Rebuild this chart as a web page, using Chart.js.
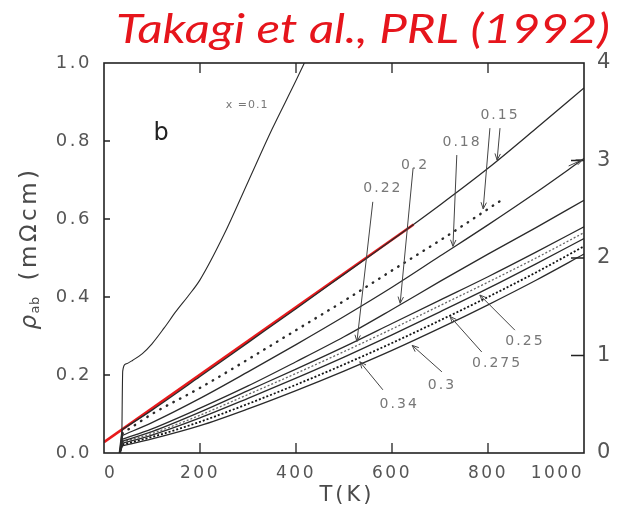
<!DOCTYPE html>
<html>
<head>
<meta charset="utf-8">
<script src="https://cdn.jsdelivr.net/npm/chart.js@4.4.0/dist/chart.umd.min.js"></script>
<style>
  html, body { margin: 0; padding: 0; background: #fff; }
</style>
</head>
<body>
<canvas id="rhoChart" width="620" height="509"></canvas>
<script>
// temperature grid for the metallic samples (K); first point is below Tc
const temps = [33, 38, 100, 200, 300, 400, 500, 600, 700, 800, 900, 1000];

// in-plane resistivity rho_ab (mOhm cm) for each Sr content x
const rho015 = [0, 0.060, 0.110, 0.196, 0.283, 0.370, 0.458, 0.546, 0.636, 0.730, 0.832, 0.936];
const rho018 = [0, 0.045, 0.078, 0.140, 0.208, 0.278, 0.350, 0.425, 0.505, 0.585, 0.668, 0.755];
const rho020 = [0, 0.035, 0.062, 0.115, 0.172, 0.234, 0.298, 0.368, 0.440, 0.510, 0.578, 0.648];
const rho022 = [0, 0.030, 0.055, 0.105, 0.160, 0.215, 0.272, 0.332, 0.392, 0.452, 0.515, 0.580];
const rho025 = [0, 0.028, 0.050, 0.097, 0.150, 0.204, 0.260, 0.318, 0.378, 0.438, 0.500, 0.565];
const rho0275 = [0, 0.025, 0.046, 0.090, 0.140, 0.192, 0.246, 0.303, 0.362, 0.422, 0.485, 0.550];
const rho030 = [0, 0.022, 0.041, 0.080, 0.126, 0.175, 0.227, 0.282, 0.340, 0.400, 0.463, 0.530];
const rho034 = [0, 0.018, 0.036, 0.070, 0.113, 0.160, 0.210, 0.263, 0.320, 0.380, 0.443, 0.510];

// second x = 0.15 crystal (dotted), measured up to 830 K
const tempsDot = [33, 38, 100, 200, 300, 400, 500, 600, 700, 830];
const rhoDot = [0, 0.050, 0.100, 0.167, 0.240, 0.315, 0.390, 0.468, 0.545, 0.650];

// underdoped x = 0.1 sample, runs off the top of the frame
const temps01 = [33, 37, 39, 45, 60, 80, 100, 125, 150, 175, 200, 250, 300, 350, 400, 425];
const rho01 = [0, 0.020, 0.210, 0.228, 0.238, 0.255, 0.280, 0.320, 0.363, 0.402, 0.444, 0.560, 0.695, 0.830, 0.955, 1.020];

// linear-in-T guide
const lineT = [0, 645];
const lineRho = [0.028, 0.586];

// x-content labels [text, T, rho] and their arrows [T0, rho0, T1, rho1]
const xLabels = [
  ['0.15', 825, 0.867], ['0.18', 746, 0.797], ['0.2', 648, 0.738], ['0.22', 581, 0.679],
  ['0.25', 877, 0.287], ['0.275', 819, 0.231], ['0.3', 704, 0.174], ['0.34', 615, 0.126]
];
const arrows = [
  [825, 0.833, 819, 0.751], [804, 0.833, 790, 0.626], [735, 0.764, 727, 0.530],
  [644, 0.731, 617, 0.384], [560, 0.644, 527, 0.286], [856, 0.315, 783, 0.405],
  [787, 0.259, 721, 0.350], [704, 0.208, 642, 0.276], [581, 0.162, 533, 0.234],
  [968, 0.736, 997, 0.752]
];

const xTicks = [200, 400, 600, 800];
const yTicks = [0.2, 0.4, 0.6, 0.8];
const y2Ticks = [1, 2, 3];

const pts = (ts, vs) => ts.map((t, i) => ({ x: t, y: vs[i] }));

// a resistivity curve: straight drop at Tc, smooth metallic part above it
function curve(ts, vs, extra) {
  const style = Object.assign({
    borderColor: '#2a2a2a',
    borderWidth: 1.3,
    pointRadius: 0,
    fill: false
  }, extra || {});
  const drop = Object.assign({}, style, { data: pts(ts.slice(0, 2), vs.slice(0, 2)), tension: 0, borderDash: [] });
  const body = Object.assign({}, style, {
    data: pts(ts.slice(1), vs.slice(1)),
    cubicInterpolationMode: 'monotone'
  });
  return [drop, body];
}

const dotted = { borderDash: [0.5, 7], borderWidth: 2.4, borderCapStyle: 'round' };

// frame, inward ticks, arrows and text
const decor = {
  id: 'decor',
  beforeDraw(chart) {
    chart.ctx.letterSpacing = '2.5px';
  },
  afterDatasetsDraw(chart) {
    const { ctx, chartArea: a, scales } = chart;
    const sx = scales.x, sy = scales.y, sy2 = scales.y2;
    ctx.save();
    ctx.strokeStyle = '#222';
    ctx.lineWidth = 1.6;
    ctx.strokeRect(a.left, a.top, a.right - a.left, a.bottom - a.top);
    ctx.lineWidth = 1.3;
    ctx.beginPath();
    xTicks.forEach(v => {
      const px = sx.getPixelForValue(v);
      ctx.moveTo(px, a.bottom); ctx.lineTo(px, a.bottom - 10);
      ctx.moveTo(px, a.top); ctx.lineTo(px, a.top + 10);
    });
    yTicks.forEach(v => {
      const py = sy.getPixelForValue(v);
      ctx.moveTo(a.left, py); ctx.lineTo(a.left + 6, py);
    });
    y2Ticks.forEach(v => {
      const py = sy2.getPixelForValue(v);
      ctx.moveTo(a.right, py); ctx.lineTo(a.right - 13, py);
    });
    ctx.stroke();

    // arrows from the labels to their curves
    ctx.strokeStyle = '#444';
    ctx.lineWidth = 1;
    arrows.forEach(([t0, r0, t1, r1]) => {
      const x0 = sx.getPixelForValue(t0), y0 = sy.getPixelForValue(r0);
      const x1 = sx.getPixelForValue(t1), y1 = sy.getPixelForValue(r1);
      const ang = Math.atan2(y1 - y0, x1 - x0);
      ctx.beginPath();
      ctx.moveTo(x0, y0); ctx.lineTo(x1, y1);
      [0.4, -0.4].forEach(d => {
        ctx.moveTo(x1, y1);
        ctx.lineTo(x1 - 7 * Math.cos(ang + d), y1 - 7 * Math.sin(ang + d));
      });
      ctx.stroke();
    });

    ctx.fillStyle = '#777';
    ctx.textAlign = 'center';
    ctx.textBaseline = 'middle';
    ctx.font = '14px "DejaVu Sans"';
    ctx.letterSpacing = '2px';
    xLabels.forEach(([txt, t, r]) => {
      ctx.fillText(txt, sx.getPixelForValue(t), sy.getPixelForValue(r));
    });
    ctx.font = '11px "DejaVu Sans"';
    ctx.letterSpacing = '1px';
    ctx.fillText('x =0.1', sx.getPixelForValue(298), sy.getPixelForValue(0.892));
    ctx.fillStyle = '#222';
    ctx.font = '24px "DejaVu Sans"';
    ctx.letterSpacing = '0px';
    ctx.fillText('b', sx.getPixelForValue(119), sy.getPixelForValue(0.818));
    ctx.restore();
  },
  afterDraw(chart) {
    const { ctx } = chart;
    ctx.save();
    ctx.fillStyle = '#4a4a4a';
    ctx.textBaseline = 'middle';
    // x-axis title
    ctx.font = '21px "DejaVu Sans"';
    ctx.letterSpacing = '3px';
    ctx.textAlign = 'center';
    ctx.fillText('T(K)', 347, 496);
    // y-axis title with subscript
    ctx.translate(30, 248);
    ctx.rotate(-Math.PI / 2);
    const main = '23px "DejaVu Sans"', sub = '13px "DejaVu Sans"';
    ctx.letterSpacing = '3.5px';
    ctx.font = 'italic ' + main;
    const wRho = ctx.measureText('ρ').width;
    ctx.font = main;
    const wUnit = ctx.measureText(' (mΩcm)').width;
    ctx.letterSpacing = '0.5px';
    ctx.font = sub;
    const wSub = ctx.measureText('ab').width + 3;
    let x = -(wRho + wSub + wUnit) / 2;
    ctx.textAlign = 'left';
    ctx.letterSpacing = '3.5px';
    ctx.font = 'italic ' + main;
    ctx.fillText('ρ', x, 0); x += wRho;
    ctx.letterSpacing = '0.5px';
    ctx.font = sub;
    ctx.fillText('ab', x - 2, 6); x += wSub;
    ctx.letterSpacing = '3.5px';
    ctx.font = main;
    ctx.fillText(' (mΩcm)', x, 0);
    ctx.restore();

    // citation heading, stretched horizontally
    ctx.save();
    ctx.fillStyle = '#e6151c';
    ctx.font = 'italic 40px Lato';
    ctx.letterSpacing = '0px';
    ctx.textBaseline = 'alphabetic';
    ctx.translate(116, 43);
    ctx.scale(1.23, 1);
    ctx.fillText('Takagi et al., PRL (1992)', 0, 0);
    ctx.restore();
  }
};

new Chart(document.getElementById('rhoChart'), {
  type: 'line',
  data: {
    datasets: [
      ...curve(temps01, rho01, { borderWidth: 1.1 }),
      ...curve(temps, rho015),
      ...curve(tempsDot, rhoDot, dotted),
      ...curve(temps, rho018),
      ...curve(temps, rho020),
      ...curve(temps, rho022),
      ...curve(temps, rho025, { borderDash: [2, 2], borderColor: '#666' }),
      ...curve(temps, rho0275),
      ...curve(temps, rho030, { borderDash: [2, 2], borderWidth: 1.8, borderColor: '#111' }),
      ...curve(temps, rho034),
      { data: pts(lineT, lineRho), borderColor: '#e8191b', borderWidth: 2.6, pointRadius: 0, tension: 0, fill: false }
    ]
  },
  plugins: [decor],
  options: {
    responsive: false,
    animation: false,
    events: [],
    layout: { padding: { top: 63, left: 0, right: 0, bottom: 0 } },
    plugins: { legend: { display: false }, tooltip: { enabled: false } },
    scales: {
      x: {
        type: 'linear', min: 0, max: 1000,
        afterFit: s => { s.height = 56; },
        grid: { display: false, drawTicks: false },
        border: { display: false },
        ticks: {
          stepSize: 200, autoSkip: false, maxRotation: 0, padding: 10, align: 'inner',
          color: '#555', font: { family: 'DejaVu Sans', size: 17 },
          callback: v => String(v)
        }
      },
      y: {
        type: 'linear', min: 0, max: 1, position: 'left',
        afterFit: s => { s.width = 104; },
        grid: { display: false, drawTicks: false },
        border: { display: false },
        ticks: {
          stepSize: 0.2, autoSkip: false, padding: 12,
          color: '#555', font: { family: 'DejaVu Sans', size: 18 },
          callback: v => v.toFixed(1)
        }
      },
      y2: {
        type: 'linear', min: 0, max: 4, position: 'right',
        afterFit: s => { s.width = 36; },
        grid: { display: false, drawTicks: false },
        border: { display: false },
        ticks: {
          stepSize: 1, autoSkip: false, padding: 13,
          color: '#555', font: { family: 'DejaVu Sans', size: 21 }
        }
      }
    }
  }
});
</script>
</body>
</html>
